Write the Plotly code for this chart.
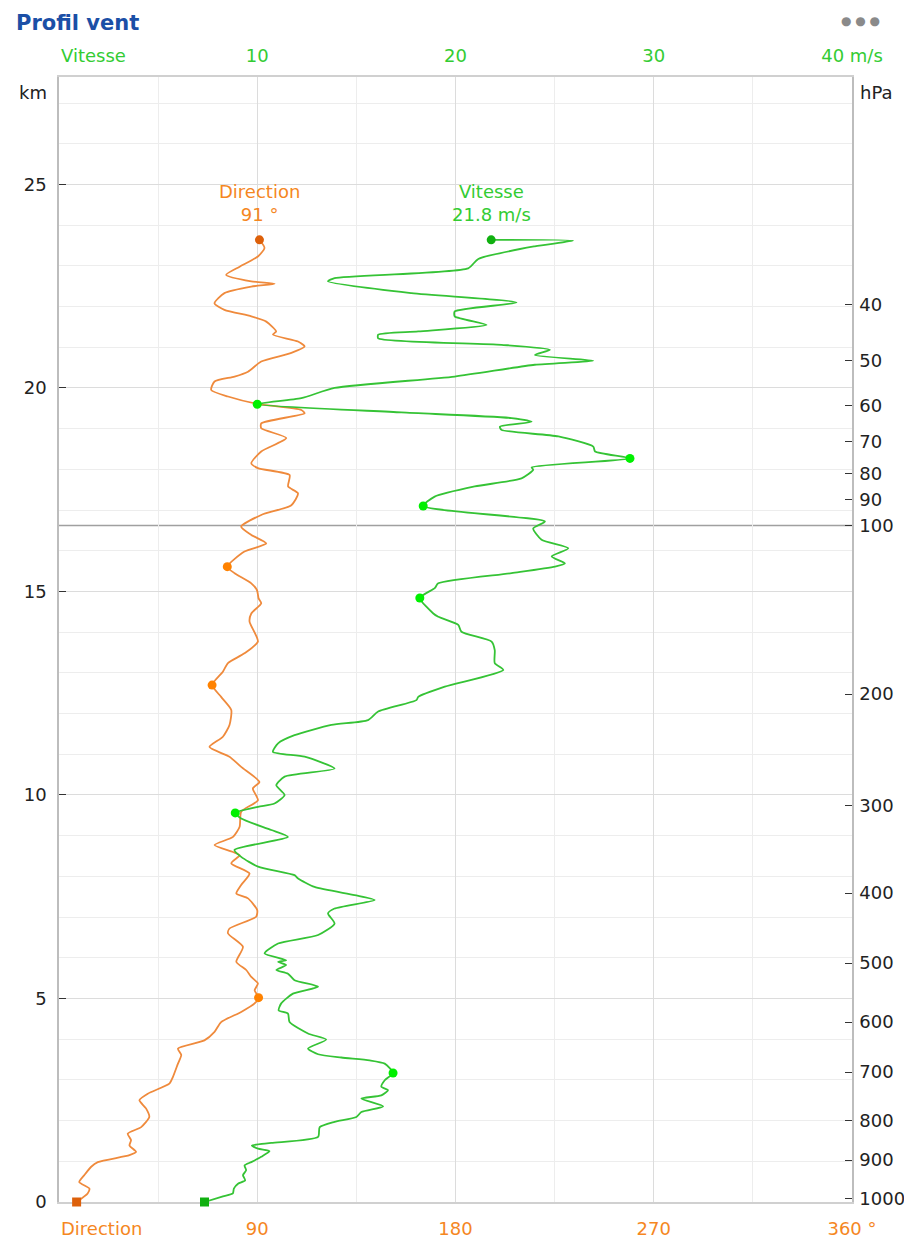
import plotly.graph_objects as go

# ---------------- data ----------------
# Wind direction profile (degrees) vs altitude (km)
dir_km = [0.0, 0.21, 0.33, 0.49, 0.66, 0.86, 0.98, 1.15, 1.23, 1.39, 1.52, 1.68, 1.84, 2.09, 2.30, 2.50,
          2.66, 2.91, 3.07, 3.40, 3.61, 3.77, 3.97, 4.18, 4.42, 4.67, 4.88, 5.02, 5.20, 5.37, 5.53, 5.70,
          5.90, 6.27, 6.60, 6.72, 7.01, 7.17, 7.46, 7.58, 7.79, 8.07, 8.32, 8.52, 8.60, 8.77, 8.97, 9.22,
          9.59, 9.87, 10.16, 10.32, 10.69, 10.94, 11.18, 11.43, 11.72, 12.09, 12.41, 12.70, 13.03, 13.24,
          13.48, 13.77, 14.26, 14.46, 14.71, 14.83, 15.03, 15.20, 15.45, 15.61, 15.98, 16.18, 16.39, 16.59,
          16.88, 17.12, 17.41, 17.58, 17.86, 18.03, 18.15, 18.44, 18.77, 19.01, 19.13, 19.38, 19.46, 19.61,
          19.79, 19.95, 20.16, 20.28, 20.40, 20.65, 20.86, 21.02, 21.14, 21.31, 21.39, 21.63, 21.76, 21.92,
          22.08, 22.33, 22.49, 22.56, 22.62, 22.78, 22.98, 23.23, 23.44, 23.64]
dir_deg = [8.0, 13.0, 13.8, 9.2, 11.5, 14.5, 17.6, 32.0, 35.0, 32.0, 32.7, 31.2, 37.3, 41.0, 39.5, 36.5,
           40.3, 50.1, 51.7, 54.0, 55.5, 54.0, 66.0, 70.6, 73.6, 82.7, 88.8, 90.6, 88.8, 90.3, 87.3, 85.0,
           80.5, 83.5, 76.7, 77.4, 89.5, 90.0, 85.8, 80.5, 82.7, 86.5, 78.2, 82.0, 79.0, 70.6, 79.0, 82.0,
           82.7, 90.3, 88.0, 91.0, 82.7, 77.4, 68.3, 74.4, 77.4, 78.2, 73.6, 69.5, 74.4, 76.7,
           84.2, 90.3, 86.5, 87.3, 91.8, 90.6, 89.9, 87.3, 79.7, 76.4, 84.2, 94.1, 87.3, 82.7,
           91.8, 105.5, 108.5, 104.0, 104.7, 90.3, 87.3, 91.8, 103.2, 91.8, 91.8, 111.5, 110.0, 90.0,
           76.7, 69.1, 70.6, 79.7, 85.8, 91.8, 105.5, 111.5, 108.5, 97.1, 98.6, 94.1, 87.3, 75.1,
           70.6, 75.1, 87.3, 97.9, 87.3, 75.9, 82.0, 90.3, 93.3, 91.0]

# Wind speed profile (m/s) vs altitude (km)
spd_km = [0.0, 0.14, 0.21, 0.33, 0.45, 0.53, 0.66, 0.78, 0.90, 0.98, 1.11, 1.25, 1.31, 1.39, 1.45, 1.60,
          1.84, 1.97, 2.09, 2.21, 2.35, 2.54, 2.62, 2.75, 2.83, 2.99, 3.17, 3.40, 3.48, 3.55, 3.63, 3.77,
          3.99, 4.14, 4.42, 4.63, 4.71, 4.88, 5.12, 5.29, 5.45, 5.61, 5.70, 5.82, 5.90, 5.94, 6.11, 6.35,
          6.56, 6.84, 7.09, 7.21, 7.42, 7.54, 7.74, 7.95, 8.03, 8.24, 8.48, 8.65, 8.97, 9.14, 9.42, 9.56,
          9.71, 9.79, 10.00, 10.24, 10.45, 10.65, 10.94, 11.06, 11.27, 11.47, 11.72, 11.84, 12.05, 12.33,
          12.41, 12.66, 13.07, 13.24, 13.56, 13.77, 14.01, 14.18, 14.38, 14.46, 14.84, 15.08, 15.20, 15.45,
          15.61, 15.69, 15.86, 16.06, 16.27, 16.55, 16.72, 17.10, 17.33, 17.58, 17.78, 17.99, 18.05, 18.27,
          18.44, 18.56, 18.81, 18.97, 19.05, 19.17, 19.26, 19.40, 19.60, 19.75, 20.00, 20.28, 20.57, 20.67,
          20.81, 20.94, 21.06, 21.22, 21.31, 21.39, 21.55, 21.76, 21.88, 22.10, 22.33, 22.62, 22.70, 22.94,
          23.17, 23.48, 23.62, 23.64]
spd_ms = [7.34, 8.27, 8.77, 8.82, 9.03, 9.39, 9.28, 9.44, 9.36, 9.70, 10.20, 10.62, 10.04, 9.73, 10.71, 13.07,
          13.15, 13.90, 15.00, 15.25, 16.35, 15.25, 16.26, 16.60, 16.26, 16.43, 16.85, 16.43, 15.67, 14.24, 13.07, 12.56,
          13.48, 12.56, 11.63, 11.55, 11.08, 11.21, 11.80, 13.07, 11.88, 11.55, 10.96, 11.46, 11.05, 11.46, 10.37, 11.05,
          13.07, 13.90, 13.57, 13.90, 15.92, 14.91, 12.89, 12.06, 11.88, 10.04, 9.19, 8.85, 11.55, 10.71, 9.19, 8.89,
          10.04, 10.87, 11.38, 10.96, 11.38, 13.90, 12.39, 10.79, 11.05, 11.88, 13.74, 15.59, 16.10, 18.03,
          18.12, 19.46, 22.41, 21.98, 21.98, 21.82, 20.30, 20.14, 19.13, 18.88, 18.20, 18.95, 19.13, 22.83,
          25.02, 25.52, 24.85, 25.69, 24.34, 23.92, 24.51, 18.37, 18.95, 20.97, 23.33, 23.92, 23.84, 28.80,
          27.04, 26.95, 25.19, 22.32, 22.24, 23.84, 22.83, 17.27, 10.00, 12.22, 13.90, 19.96, 24.00, 26.95,
          24.00, 24.76, 22.32, 16.10, 16.10, 18.12, 21.57, 19.96, 19.96, 23.08, 17.78, 13.57, 13.90, 20.64,
          21.15, 24.00, 25.94, 21.80]

# Highlighted points
dir_mark_km = [15.61, 12.70, 5.02]
dir_mark_deg = [76.4, 69.5, 90.6]
spd_mark_km = [19.60, 18.27, 17.10, 14.84, 9.56, 3.17]
spd_mark_ms = [10.00, 28.80, 18.37, 18.20, 8.89, 16.85]
dir_top = (23.64, 91.0)
spd_top = (23.64, 21.8)
dir_ground = (0.0, 8.0)
spd_ground = (0.0, 7.34)

# Pressure axis (hPa) positions in km
hpa_labels = ["1000", "900", "800", "700", "600", "500", "400", "300", "200", "100", "90", "80", "70", "60", "50", "40"]
hpa_km = [0.08, 1.03, 2.01, 3.19, 4.42, 5.87, 7.59, 9.73, 12.48, 16.62, 17.25, 17.90, 18.68, 19.56, 20.67, 22.04]
tropopause_km = 16.62

km_ticks = [0, 5, 10, 15, 20, 25]
dir_ticks = [90, 180, 270, 360]
dir_ticktext = ["90", "180", "270", "360 °"]
spd_ticks = [10, 20, 30, 40]
spd_ticktext = ["10", "20", "30", "40 m/s"]

# ---------------- style ----------------
ORANGE_LINE = "#EF8A3C"
ORANGE_TXT = "#F5871F"
ORANGE_DARK = "#DD600A"
ORANGE_DOT = "#FF8200"
GREEN_LINE = "#35C335"
GREEN_TXT = "#33CC33"
GREEN_DARK = "#10B010"
GREEN_DOT = "#00F000"
FONT = "DejaVu Sans"
FS = 18
YMAX = 27.64
# page has an 8px body margin: figure is sized/offset accordingly
W, H = 896, 1235
ML, MR, MT, MB = 51, 52, 69, 41

fig = go.Figure()

fig.add_trace(go.Scatter(x=dir_deg, y=dir_km, mode="lines", xaxis="x", yaxis="y",
                         line=dict(color=ORANGE_LINE, width=1.8, shape="spline", smoothing=0.6),
                         hoverinfo="skip", showlegend=False))
fig.add_trace(go.Scatter(x=spd_ms, y=spd_km, mode="lines", xaxis="x2", yaxis="y",
                         line=dict(color=GREEN_LINE, width=1.8, shape="spline", smoothing=0.6),
                         hoverinfo="skip", showlegend=False))

fig.add_trace(go.Scatter(x=dir_mark_deg, y=dir_mark_km, mode="markers", xaxis="x", yaxis="y",
                         marker=dict(color=ORANGE_DOT, size=9), showlegend=False))
fig.add_trace(go.Scatter(x=spd_mark_ms, y=spd_mark_km, mode="markers", xaxis="x2", yaxis="y",
                         marker=dict(color=GREEN_DOT, size=9), showlegend=False))
fig.add_trace(go.Scatter(x=[dir_top[1]], y=[dir_top[0]], mode="markers", xaxis="x", yaxis="y",
                         marker=dict(color=ORANGE_DARK, size=9), showlegend=False))
fig.add_trace(go.Scatter(x=[spd_top[1]], y=[spd_top[0]], mode="markers", xaxis="x2", yaxis="y",
                         marker=dict(color=GREEN_DARK, size=9), showlegend=False))
fig.add_trace(go.Scatter(x=[dir_ground[1]], y=[dir_ground[0]], mode="markers", xaxis="x", yaxis="y",
                         marker=dict(color=ORANGE_DARK, size=9, symbol="square"), showlegend=False,
                         cliponaxis=False))
fig.add_trace(go.Scatter(x=[spd_ground[1]], y=[spd_ground[0]], mode="markers", xaxis="x2", yaxis="y",
                         marker=dict(color=GREEN_DARK, size=9, symbol="square"), showlegend=False,
                         cliponaxis=False))
# invisible trace to activate right axis
fig.add_trace(go.Scatter(x=[None], y=[None], xaxis="x", yaxis="y2", showlegend=False))

fig.add_shape(type="line", xref="paper", yref="y", x0=0, x1=1, y0=tropopause_km, y1=tropopause_km,
              line=dict(color="#A0A0A0", width=1.5), layer="below")

fig.add_annotation(x=dir_top[1], y=dir_top[0], xref="x", yref="y", text=f"Direction<br>{dir_top[1]:.0f} °",
                   showarrow=False, yanchor="bottom", yshift=13, font=dict(color=ORANGE_TXT, size=FS, family=FONT))
fig.add_annotation(x=spd_top[1], y=spd_top[0], xref="x2", yref="y", text=f"Vitesse<br>{spd_top[1]} m/s",
                   showarrow=False, yanchor="bottom", yshift=13, font=dict(color=GREEN_TXT, size=FS, family=FONT))

fig.add_annotation(x=0, y=1, xref="paper", yref="paper", text="Vitesse", showarrow=False,
                   xanchor="left", yanchor="middle", yshift=22, font=dict(color=GREEN_TXT, size=FS, family=FONT))
fig.add_annotation(x=0, y=0, xref="paper", yref="paper", text="Direction", showarrow=False,
                   xanchor="left", yanchor="middle", yshift=-26, font=dict(color=ORANGE_TXT, size=FS, family=FONT))
fig.add_annotation(x=0, y=1, xref="paper", yref="paper", text="km", showarrow=False,
                   xanchor="right", yanchor="middle", xshift=-10, yshift=-15, font=dict(color="#222", size=FS, family=FONT))
fig.add_annotation(x=1, y=1, xref="paper", yref="paper", text="hPa", showarrow=False,
                   xanchor="left", yanchor="middle", xshift=6, yshift=-15, font=dict(color="#222", size=FS, family=FONT))

# title and menu dots
fig.add_annotation(x=0, y=1, xref="paper", yref="paper", text="<b>Profil vent</b>", showarrow=False,
                   xanchor="left", yanchor="top", xshift=-45, yshift=MT - 1,
                   font=dict(color="#1B4FA6", size=21, family=FONT))
fig.add_annotation(x=1, y=1, xref="paper", yref="paper", text="● ● ●", showarrow=False,
                   xanchor="right", yanchor="middle", xshift=30, yshift=56,
                   font=dict(color="#8A8A8A", size=12, family=FONT))

fig.update_layout(
    width=W, height=H,
    paper_bgcolor="white", plot_bgcolor="white",
    margin=dict(l=ML, r=MR, t=MT, b=MB, autoexpand=False),
    xaxis=dict(range=[0, 360], tickvals=dir_ticks, ticktext=dir_ticktext, side="bottom",
               showgrid=True, gridcolor="#DCDCDC", gridwidth=1,
               minor=dict(dtick=45, showgrid=True, gridcolor="#EDEDED", tick0=0),
               zeroline=False, showline=True, linecolor="#D0D0D0", linewidth=1.5, ticks="",
               layer="below traces", automargin=False,
               tickfont=dict(color=ORANGE_TXT, size=FS, family=FONT), ticklabelstandoff=10),
    xaxis2=dict(range=[0, 40], tickvals=spd_ticks, ticktext=spd_ticktext, side="top",
                overlaying="x", showgrid=False, zeroline=False, showline=True, linecolor="#D0D0D0",
                linewidth=1.5, ticks="", layer="below traces", automargin=False,
                tickfont=dict(color=GREEN_TXT, size=FS, family=FONT), ticklabelstandoff=6),
    yaxis=dict(range=[0, YMAX], tickvals=km_ticks, showgrid=True, gridcolor="#DCDCDC",
               minor=dict(dtick=1, showgrid=True, gridcolor="#EDEDED", tick0=0),
               zeroline=False, showline=True, linecolor="#BDBDBD", linewidth=1.5, mirror=False,
               ticks="inside", ticklen=7, tickcolor="#333", tickwidth=1, automargin=False,
               tickfont=dict(color="#222", size=FS, family=FONT), ticklabelstandoff=7),
    yaxis2=dict(range=[0, YMAX], tickvals=hpa_km, ticktext=hpa_labels, side="right", overlaying="y",
                showgrid=False, zeroline=False, showline=True, linecolor="#BDBDBD", linewidth=1.5,
                ticks="inside", ticklen=7, tickcolor="#333", tickwidth=1, automargin=False,
                tickfont=dict(color="#222", size=FS, family=FONT), ticklabelstandoff=2),
)

fig.write_html("out.html")
